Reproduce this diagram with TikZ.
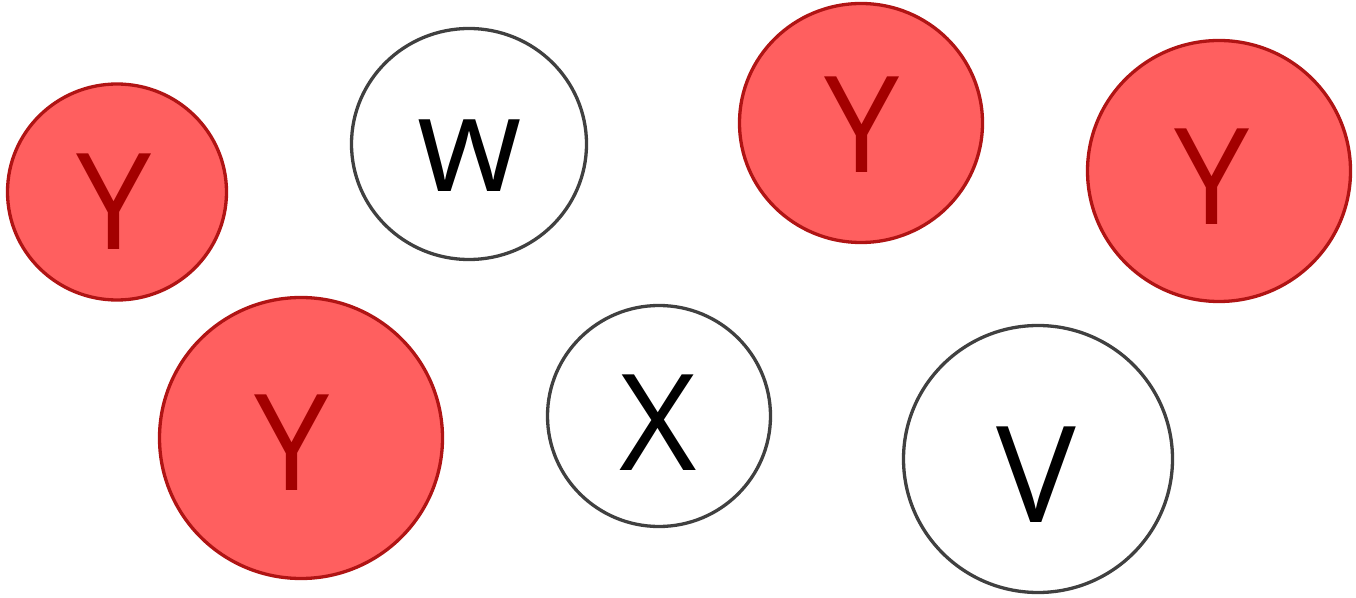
\documentclass[tikz,border=0pt]{standalone}
\usepackage{fontspec}
\setmainfont{Open Sans}
\usetikzlibrary{shapes.geometric}
\definecolor{redfill}{HTML}{FF5F5F}
\definecolor{redline}{HTML}{B01414}
\definecolor{redtext}{HTML}{A30000}
\definecolor{greyline}{HTML}{404040}
\tikzset{
  redball/.style={ellipse, draw=redline, fill=redfill, line width=3.3pt, inner sep=0pt},
  whiteball/.style={ellipse, draw=greyline, fill=white, line width=3.3pt, inner sep=0pt},
  redlabel/.style={anchor=base, inner sep=0pt, text=redtext, font=\fontsize{134}{134}\selectfont},
  blacklabel/.style={anchor=base, inner sep=0pt, text=black, font=\fontsize{134}{134}\selectfont},
}
\begin{document}
\begin{tikzpicture}[x=1pt,y=1pt]
\useasboundingbox (0,0) rectangle (1356,597);
% balls (y = 597 - image y)
\node[redball, minimum width=219pt, minimum height=216pt] (b1) at (117,405) {};
\node[whiteball, minimum width=235pt, minimum height=231pt] (b2) at (469,453) {};
\node[redball, minimum width=243pt, minimum height=239pt] (b3) at (861,474) {};
\node[redball, minimum width=263pt, minimum height=261pt] (b4) at (1219,426) {};
\node[redball, minimum width=283pt, minimum height=281pt] (b5) at (301,159) {};
\node[whiteball, minimum width=223pt, minimum height=221pt] (b6) at (659,181) {};
\node[whiteball, minimum width=269pt, minimum height=267pt] (b7) at (1038,138) {};
% labels
\node[redlabel] (t1) at (114,347) {Y};
\node[blacklabel] (t2) at (470,405) {w};
\node[redlabel] (t3) at (862,424) {Y};
\node[redlabel] (t4) at (1212,372) {Y};
\node[redlabel] (t5) at (292,107) {Y};
\node[blacklabel] (t6) at (658,127) {X};
\node[blacklabel] (t7) at (1036,75) {V};
\end{tikzpicture}
\end{document}
